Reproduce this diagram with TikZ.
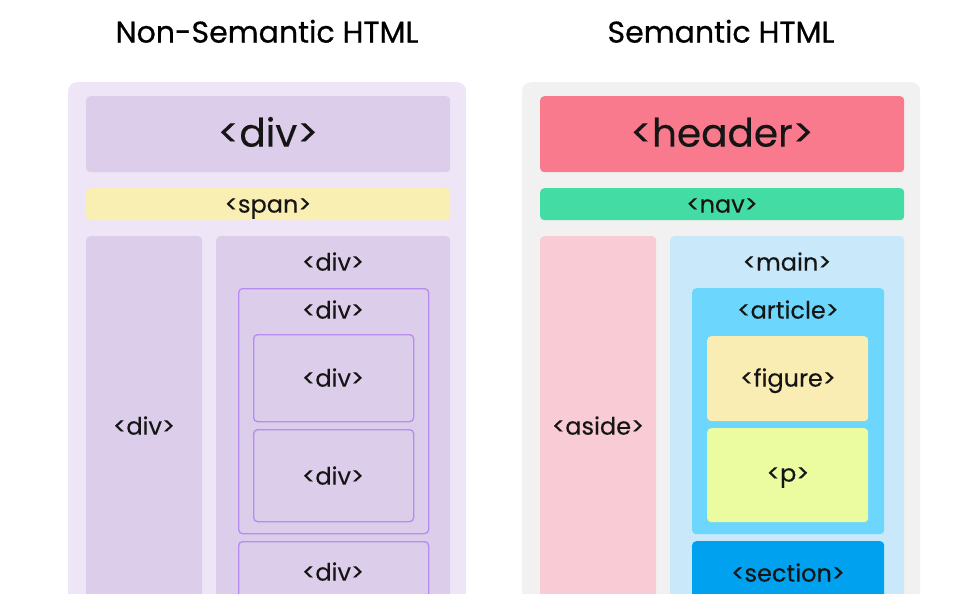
\documentclass[tikz,border=0pt]{standalone}
\usepackage{fontspec}
\setmainfont[FakeBold=0.25]{Poppins}
\newfontfamily\titlefont[FakeBold=0.7]{Poppins}
\definecolor{txt}{HTML}{151515}
\definecolor{lpanel}{HTML}{EEE6F6}
\definecolor{rpanel}{HTML}{F1F1F1}
\definecolor{divfill}{HTML}{DCCDEA}
\definecolor{divline}{HTML}{B68CF0}
\definecolor{spanfill}{HTML}{F9EFB2}
\definecolor{headerfill}{HTML}{F87A8C}
\definecolor{navfill}{HTML}{42DCA4}
\definecolor{asidefill}{HTML}{F9CBD4}
\definecolor{mainfill}{HTML}{C9E9FB}
\definecolor{articlefill}{HTML}{6DD6FC}
\definecolor{figurefill}{HTML}{F9EDB4}
\definecolor{pfill}{HTML}{EAFC9F}
\definecolor{sectionfill}{HTML}{00A1EE}
\tikzset{
  blk/.style={rectangle, rounded corners=4pt, inner sep=0pt, anchor=north west, draw=none},
  panel/.style={blk, rounded corners=9pt},
  outl/.style={blk, draw=divline, line width=1.3pt},
  txtbase/.style={text=txt, inner sep=0pt, text height=0.72em, text depth=0pt},
  big/.style={txtbase, font=\fontsize{39}{42}\selectfont, yshift=-9pt},
  lbl/.style={txtbase, font=\fontsize{24}{27}\selectfont, yshift=-5pt},
  ttl/.style={text=black, inner sep=0pt, text height=0.72em, text depth=0pt, font=\titlefont\fontsize{30}{33}\selectfont, yshift=-6pt},
}
\begin{document}
\begin{tikzpicture}[x=1pt,y=-1pt]
\useasboundingbox (0,0) rectangle (970,594);
\clip (0,0) rectangle (970,594);
\fill[white] (0,0) rectangle (970,594);
% titles
\node[ttl] (t1) at (267,33) {Non-Semantic HTML};
\node[ttl] (t2) at (721,33) {Semantic HTML};
% left panel
\node[panel, fill=lpanel, minimum width=398pt, minimum height=540pt] (lp) at (68,82) {};
\node[blk, fill=divfill, minimum width=364pt, minimum height=76pt] (ld1) at (86,96) {};
\node[big] (ld1t) at (268,134) {<div>};
\node[blk, fill=spanfill, minimum width=364pt, minimum height=32pt] (ls) at (86,188) {};
\node[lbl] (lst) at (268,204) {<span>};
\node[blk, fill=divfill, minimum width=116pt, minimum height=380pt] (lc) at (86,236) {};
\node[lbl] (lct) at (144,426) {<div>};
\node[blk, fill=divfill, minimum width=234pt, minimum height=380pt] (lr) at (216,236) {};
\node[lbl] (lrt) at (333,262) {<div>};
\node[outl, minimum width=190pt, minimum height=245pt] (li) at (238,288) {};
\node[lbl] (lit) at (333,310) {<div>};
\node[outl, minimum width=160pt, minimum height=87pt] (la) at (253,334) {};
\node[lbl] (lat) at (333,378) {<div>};
\node[outl, minimum width=160pt, minimum height=92pt] (lb) at (253,429) {};
\node[lbl] (lbt) at (333,476) {<div>};
\node[outl, minimum width=190pt, minimum height=80pt] (lz) at (238,541) {};
\node[lbl] (lzt) at (333,572) {<div>};
% right panel
\node[panel, fill=rpanel, minimum width=398pt, minimum height=540pt] (rp) at (522,82) {};
\node[blk, fill=headerfill, minimum width=364pt, minimum height=76pt] (rh) at (540,96) {};
\node[big] (rht) at (722,134) {<header>};
\node[blk, fill=navfill, minimum width=364pt, minimum height=32pt] (rn) at (540,188) {};
\node[lbl] (rnt) at (722,204) {<nav>};
\node[blk, fill=asidefill, minimum width=116pt, minimum height=380pt] (ra) at (540,236) {};
\node[lbl] (rat) at (598,426) {<aside>};
\node[blk, fill=mainfill, minimum width=234pt, minimum height=380pt] (rm) at (670,236) {};
\node[lbl] (rmt) at (787,262) {<main>};
\node[blk, fill=articlefill, minimum width=192pt, minimum height=246pt] (rr) at (692,288) {};
\node[lbl] (rrt) at (788,310) {<article>};
\node[blk, fill=figurefill, minimum width=161pt, minimum height=85pt] (rf) at (707,336) {};
\node[lbl] (rft) at (788,378) {<figure>};
\node[blk, fill=pfill, minimum width=161pt, minimum height=94pt] (rpp) at (707,428) {};
\node[lbl] (rpt) at (788,473) {<p>};
\node[blk, fill=sectionfill, minimum width=192pt, minimum height=80pt] (rs) at (692,541) {};
\node[lbl] (rst) at (788,573) {<section>};
\end{tikzpicture}
\end{document}
